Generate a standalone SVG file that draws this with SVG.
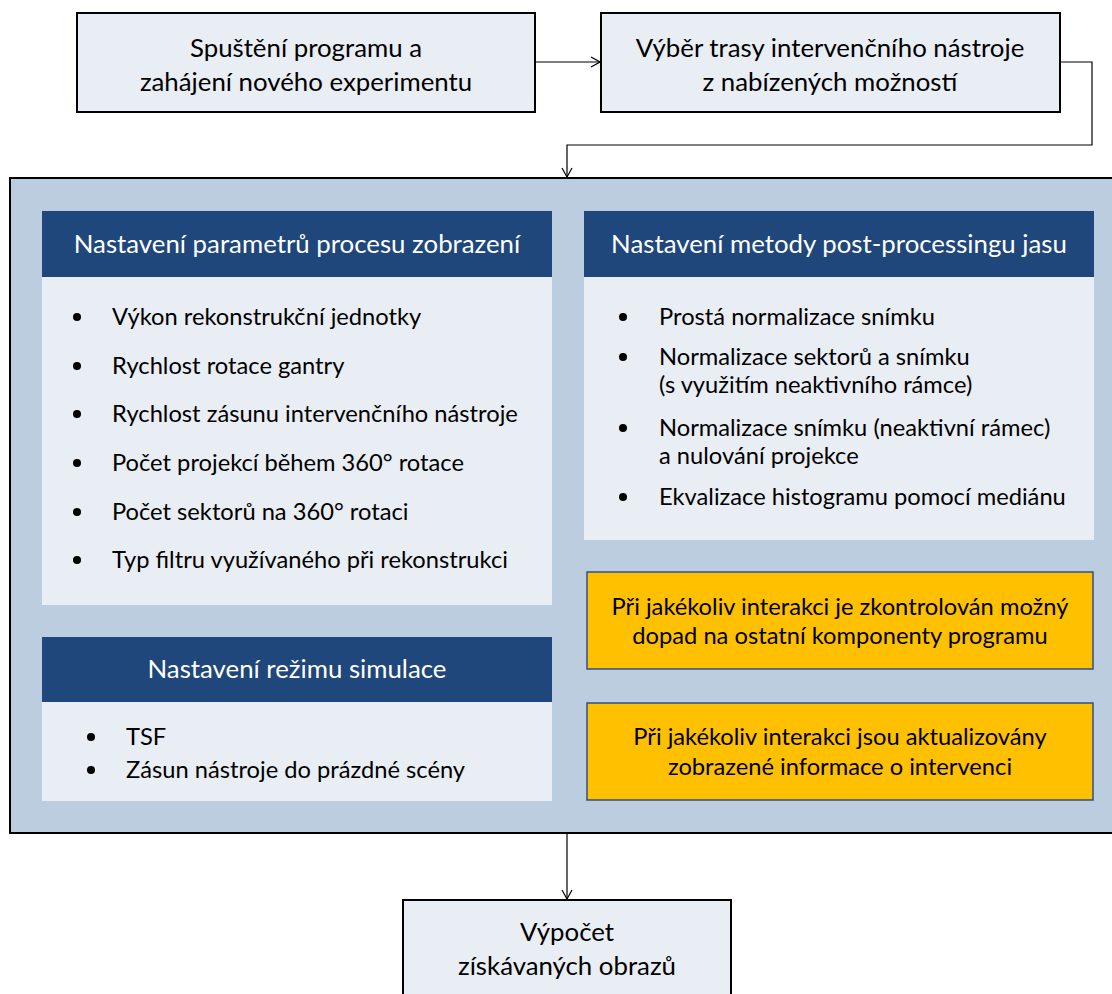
<svg xmlns="http://www.w3.org/2000/svg" width="1112" height="994" viewBox="0 0 1112 994">
  <defs>
    <style>
      text { font-family: Lato, "Noto Sans", "Liberation Sans", sans-serif; font-size: 23.7px; fill: #000; }
      .lg { font-size: 25.8px; }
      .c { text-anchor: middle; }
      .hdr-t { fill: #fff; text-anchor: middle; font-size: 25.8px; }
      .box { fill: #e9edf4; stroke: #000; stroke-width: 2; }
      .hdr { fill: #1f477b; }
      .body { fill: #e9edf4; }
      .note { fill: #ffc000; stroke: #2f4f8a; stroke-width: 1.5; }
      .wire { fill: none; stroke: #000; stroke-width: 1.2; }
      .dot { fill: #000; }
    </style>
    <marker id="open" viewBox="0 0 12 12" refX="11" refY="6" markerWidth="12" markerHeight="12" markerUnits="userSpaceOnUse" orient="auto">
      <path d="M2,1 L11,6 L2,11" fill="none" stroke="#000" stroke-width="1.2"/>
    </marker>
  </defs>

  <!-- start -->
  <g id="start">
    <rect class="box" x="77" y="13" width="458" height="99"/>
    <text class="c lg" x="306" y="57">Spuštění programu a</text>
    <text class="c lg" x="306" y="91">zahájení nového experimentu</text>
  </g>

  <!-- route selection -->
  <g id="route">
    <rect class="box" x="601" y="13" width="459" height="99"/>
    <text class="c lg" x="830" y="57">Výběr trasy intervenčního nástroje</text>
    <text class="c lg" x="830" y="91">z nabízených možností</text>
  </g>

  <!-- settings container -->
  <g id="settings">
    <rect x="10" y="178" width="1110" height="655" fill="#bccde0" stroke="#000" stroke-width="2"/>
  </g>

  <!-- imaging parameters -->
  <g id="imaging">
    <rect class="hdr" x="42" y="211" width="510" height="66"/>
    <text class="hdr-t" x="297" y="253">Nastavení parametrů procesu zobrazení</text>
    <rect class="body" x="42" y="277" width="510" height="328"/>
    <circle class="dot" cx="77" cy="317" r="4"/>
    <text x="112" y="325">Výkon rekonstrukční jednotky</text>
    <circle class="dot" cx="77" cy="366" r="4"/>
    <text x="112" y="374">Rychlost rotace gantry</text>
    <circle class="dot" cx="77" cy="414" r="4"/>
    <text x="112" y="422">Rychlost zásunu intervenčního nástroje</text>
    <circle class="dot" cx="77" cy="463" r="4"/>
    <text x="112" y="471">Počet projekcí během 360° rotace</text>
    <circle class="dot" cx="77" cy="512" r="4"/>
    <text x="112" y="520">Počet sektorů na 360° rotaci</text>
    <circle class="dot" cx="77" cy="560" r="4"/>
    <text x="112" y="568">Typ filtru využívaného při rekonstrukci</text>
  </g>

  <!-- brightness post-processing -->
  <g id="postprocessing">
    <rect class="hdr" x="584" y="211" width="510" height="66"/>
    <text class="hdr-t" x="839" y="253">Nastavení metody post-processingu jasu</text>
    <rect class="body" x="584" y="277" width="510" height="263"/>
    <circle class="dot" cx="623" cy="317" r="4"/>
    <text x="659" y="325">Prostá normalizace snímku</text>
    <circle class="dot" cx="623" cy="357" r="4"/>
    <text x="659" y="365">Normalizace sektorů a snímku</text>
    <text x="659" y="393">(s využitím neaktivního rámce)</text>
    <circle class="dot" cx="623" cy="428" r="4"/>
    <text x="659" y="436">Normalizace snímku (neaktivní rámec)</text>
    <text x="659" y="464">a nulování projekce</text>
    <circle class="dot" cx="623" cy="497" r="4"/>
    <text x="659" y="505">Ekvalizace histogramu pomocí mediánu</text>
  </g>

  <!-- simulation mode -->
  <g id="simulation">
    <rect class="hdr" x="42" y="637" width="510" height="65"/>
    <text class="hdr-t" x="297" y="678">Nastavení režimu simulace</text>
    <rect class="body" x="42" y="702" width="510" height="99"/>
    <circle class="dot" cx="91" cy="737" r="4"/>
    <text x="126" y="745">TSF</text>
    <circle class="dot" cx="91" cy="770" r="4"/>
    <text x="126" y="778">Zásun nástroje do prázdné scény</text>
  </g>

  <!-- notes -->
  <g id="note-impact">
    <rect class="note" x="587" y="572" width="506" height="97"/>
    <text class="c" x="840" y="615">Při jakékoliv interakci je zkontrolován možný</text>
    <text class="c" x="840" y="644">dopad na ostatní komponenty programu</text>
  </g>
  <g id="note-update">
    <rect class="note" x="587" y="703" width="506" height="97"/>
    <text class="c" x="840" y="745">Při jakékoliv interakci jsou aktualizovány</text>
    <text class="c" x="840" y="775">zobrazené informace o intervenci</text>
  </g>

  <!-- result -->
  <g id="result">
    <rect class="box" x="403" y="900" width="328" height="110"/>
    <text class="c lg" x="567" y="941">Výpočet</text>
    <text class="c lg" x="567" y="975">získávaných obrazů</text>
  </g>

  <!-- connectors -->
  <g id="connectors">
    <path class="wire" d="M535,62 H600" marker-end="url(#open)"/>
    <path class="wire" d="M1060,62 H1092 V145 H567 V177" marker-end="url(#open)"/>
    <path class="wire" d="M567,834 V899" marker-end="url(#open)"/>
  </g>
</svg>
